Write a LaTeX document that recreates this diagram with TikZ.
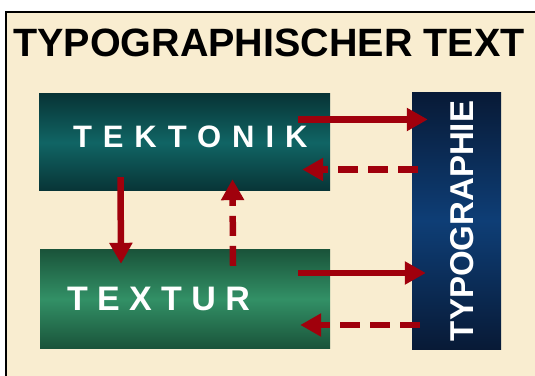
\documentclass[tikz,border=0pt]{standalone}
\usepackage{fontspec}
\setmainfont{Liberation Sans}
\usetikzlibrary{arrows.meta,positioning,calc}
\usepackage{xcolor}
\definecolor{paperbeige}{RGB}{249,237,208}
\definecolor{arrowred}{RGB}{160,0,12}
\definecolor{tealdark}{RGB}{8,52,54}
\definecolor{tealmid}{RGB}{16,100,100}
\definecolor{greendark}{RGB}{26,84,58}
\definecolor{greenmid}{RGB}{50,144,102}
\definecolor{navydark}{RGB}{8,26,54}
\definecolor{navymid}{RGB}{14,62,118}

\tikzset{
  box/.style={minimum width=291pt, minimum height=97pt, inner sep=0pt},
  boxtext/.style={text=white, inner sep=0pt, anchor=west},
  flow/.style={draw=arrowred, line width=6.5pt, -{Triangle[length=21pt,width=22pt]}},
  backflow/.style={flow, dash pattern=on 20pt off 10pt}
}

\begin{document}
\begin{tikzpicture}[x=1pt,y=1pt]
    \useasboundingbox (0,0) rectangle (535,375);

    % Frame
    \draw[line width=2pt, fill=paperbeige] (6,-30) rectangle (570,363);

    % Title
    \node[anchor=base west, inner sep=0pt, font=\bfseries\fontsize{39.5}{40}\selectfont] (title) at (13,318) {TYPOGRAPHISCHER TEXT};

    % Boxes
    \node[box, top color=tealdark, bottom color=tealdark, middle color=tealmid] (tektonik) at (184.5,232.5) {};
    \node[box, minimum width=290pt, minimum height=98pt, top color=greendark, bottom color=greendark, middle color=greenmid] (textur) at (185,76) {};
    \node[box, minimum width=89pt, minimum height=256pt, top color=navydark, bottom color=navydark, middle color=navymid] (typo) at (456.5,154) {};

    % Box labels
    \node[boxtext, font=\bfseries\fontsize{31}{31}\selectfont\addfontfeature{LetterSpace=35.3}] (tektoniklabel) at ($(tektonik.west)+(34,5.5)$) {TEKTONIK};
    \node[boxtext, font=\bfseries\fontsize{34}{34}\selectfont\addfontfeature{LetterSpace=27.6}] (texturlabel) at ($(textur.west)+(27,0)$) {TEXTUR};
    \node[text=white, inner sep=0pt, rotate=90, anchor=base, font=\bfseries\fontsize{33}{33}\selectfont] (typolabel) at ($(typo.center)+(16.5,0)$) {TYPOGRAPHIE};

    % Arrows
    \draw[flow] ($(tektonik.east)+(-32,23)$) -- ($(tektonik.east -| typo.west)+(16,23)$);
    \draw[backflow] ($(tektonik.east -| typo.west)+(6,-27)$) -- ($(tektonik.east)+(-28,-27)$);
    \draw[flow] ($(tektonik.south)+(-64,14)$) -- ($(textur.north)+(-64,-14)$);
    \draw[backflow] ($(textur.north)+(48,-16)$) -- ($(tektonik.south)+(48,12)$);
    \draw[flow] ($(textur.east)+(-32,26)$) -- ($(textur.east -| typo.west)+(14,26)$);
    \draw[backflow] ($(textur.east -| typo.west)+(8,-26)$) -- ($(textur.east)+(-30,-26)$);
\end{tikzpicture}
\end{document}
